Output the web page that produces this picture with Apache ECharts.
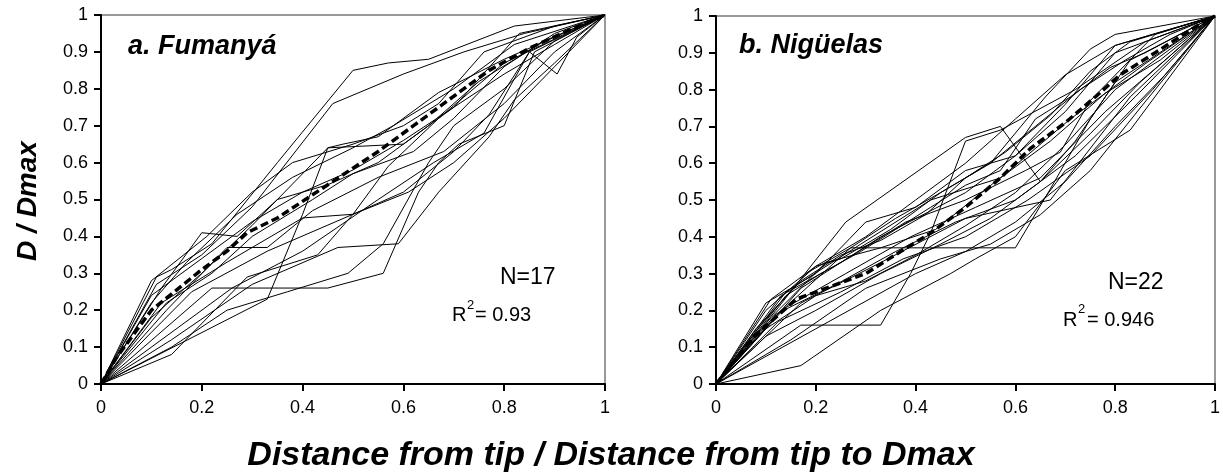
<!DOCTYPE html>
<html>
<head>
<meta charset="utf-8">
<title>D / Dmax</title>
<script src="https://cdn.jsdelivr.net/npm/echarts@6/dist/echarts.min.js"></script>
</head>
<body style="margin:0">
<div id="main" style="width: 1223px; height: 476px;"></div>
<script type="text/javascript">
// ticks
var yTicks = [0, 0.1, 0.2, 0.3, 0.4, 0.5, 0.6, 0.7, 0.8, 0.9, 1];
var xTicks = [0, 0.2, 0.4, 0.6, 0.8, 1];

// a. Fumanyá - 17 individual profiles [x, D/Dmax]
var fumanyaLines = [
	[[0,0],[0.11,0.29],[0.14,0.31],[0.22,0.38],[0.35,0.6],[0.5,0.85],[0.57,0.87],[0.65,0.88],[0.82,0.97],[1,1]],
	[[0,0],[0.14,0.08],[0.29,0.29],[0.43,0.35],[0.5,0.46],[0.57,0.59],[0.67,0.72],[0.8,0.87],[1,1]],
	[[0,0],[0.22,0.26],[0.45,0.26],[0.56,0.3],[0.63,0.52],[0.67,0.6],[0.71,0.65],[0.8,0.7],[0.86,0.9],[1,1]],
	[[0,0],[0.33,0.23],[0.4,0.46],[0.45,0.64],[0.6,0.65],[0.7,0.75],[0.83,0.95],[1,1]],
	[[0,0],[0.14,0.12],[0.3,0.27],[0.47,0.37],[0.59,0.38],[0.67,0.52],[0.77,0.67],[0.82,0.77],[0.9,0.87],[1,1]],
	[[0,0],[0.11,0.27],[0.2,0.35],[0.3,0.48],[0.46,0.76],[0.6,0.84],[0.72,0.9],[0.84,0.95],[1,1]],
	[[0,0],[0.12,0.22],[0.25,0.33],[0.4,0.45],[0.5,0.46],[0.61,0.52],[0.7,0.6],[0.8,0.72],[0.9,0.86],[1,1]],
	[[0,0],[0.1,0.18],[0.2,0.3],[0.3,0.43],[0.45,0.64],[0.48,0.65],[0.55,0.67],[0.67,0.79],[0.8,0.88],[1,1]],
	[[0,0],[0.16,0.16],[0.26,0.26],[0.4,0.36],[0.55,0.5],[0.66,0.6],[0.76,0.68],[0.85,0.9],[0.905,0.84],[0.944,0.94],[1,1]],
	[[0,0],[0.1,0.24],[0.2,0.34],[0.3,0.44],[0.4,0.52],[0.5,0.58],[0.6,0.66],[0.7,0.75],[0.8,0.84],[0.9,0.92],[1,1]],
	[[0,0],[0.12,0.26],[0.2,0.41],[0.27,0.4],[0.35,0.5],[0.45,0.54],[0.55,0.6],[0.65,0.7],[0.75,0.82],[0.88,0.93],[1,1]],
	[[0,0],[0.13,0.2],[0.25,0.37],[0.33,0.37],[0.42,0.47],[0.55,0.56],[0.68,0.63],[0.8,0.76],[0.9,0.9],[1,1]],
	[[0,0],[0.1,0.22],[0.17,0.33],[0.27,0.46],[0.38,0.56],[0.5,0.64],[0.58,0.7],[0.7,0.8],[0.82,0.92],[1,1]],
	[[0,0],[0.1,0.14],[0.18,0.25],[0.33,0.36],[0.5,0.46],[0.6,0.52],[0.7,0.63],[0.77,0.73],[0.85,0.9],[1,1]],
	[[0,0],[0.13,0.22],[0.22,0.3],[0.3,0.4],[0.42,0.5],[0.5,0.57],[0.62,0.63],[0.7,0.72],[0.8,0.86],[0.9,0.95],[1,1]],
	[[0,0],[0.14,0.1],[0.25,0.2],[0.37,0.25],[0.49,0.3],[0.56,0.38],[0.65,0.6],[0.7,0.7],[0.8,0.8],[0.9,0.93],[1,1]],
	[[0,0],[0.1,0.28],[0.21,0.4],[0.3,0.52],[0.38,0.6],[0.5,0.65],[0.6,0.7],[0.67,0.76],[0.76,0.9],[0.9,0.97],[1,1]]
];
var fumanyaMean = [[0,0],[0.03,0.07],[0.1,0.2],[0.2,0.31],[0.25,0.36],[0.29,0.41],[0.35,0.45],[0.45,0.54],[0.55,0.63],[0.65,0.73],[0.77,0.85],[0.85,0.91],[0.93,0.96],[1,1]];

// b. Nigüelas - 22 individual profiles
var niguelasLines = [
	[[0,0],[0.12,0.2],[0.26,0.44],[0.5,0.67],[0.57,0.7],[0.65,0.55],[0.72,0.66],[0.8,0.82],[1,1]],
	[[0,0],[0.17,0.16],[0.33,0.16],[0.39,0.3],[0.43,0.41],[0.5,0.66],[0.57,0.69],[0.72,0.8],[0.86,0.93],[1,1]],
	[[0,0],[0.17,0.05],[0.33,0.2],[0.47,0.3],[0.52,0.34],[0.6,0.4],[0.7,0.58],[0.83,0.69],[1,1]],
	[[0,0],[0.14,0.21],[0.27,0.37],[0.6,0.37],[0.67,0.53],[0.75,0.72],[0.83,0.88],[1,1]],
	[[0,0],[0.1,0.2],[0.2,0.32],[0.3,0.4],[0.4,0.5],[0.5,0.6],[0.6,0.72],[0.7,0.84],[0.8,0.92],[1,1]],
	[[0,0],[0.11,0.23],[0.2,0.32],[0.25,0.34],[0.35,0.42],[0.45,0.52],[0.55,0.6],[0.66,0.78],[0.75,0.91],[0.8,0.95],[1,1]],
	[[0,0],[0.13,0.2],[0.26,0.3],[0.39,0.4],[0.52,0.48],[0.65,0.56],[0.78,0.74],[0.9,0.88],[1,1]],
	[[0,0],[0.1,0.13],[0.2,0.2],[0.33,0.3],[0.45,0.38],[0.55,0.45],[0.65,0.55],[0.75,0.68],[0.85,0.82],[1,1]],
	[[0,0],[0.08,0.15],[0.17,0.28],[0.25,0.35],[0.33,0.39],[0.42,0.46],[0.5,0.56],[0.58,0.63],[0.67,0.73],[0.75,0.85],[0.83,0.93],[1,1]],
	[[0,0],[0.14,0.25],[0.29,0.38],[0.43,0.5],[0.57,0.56],[0.71,0.72],[0.86,0.87],[1,1]],
	[[0,0],[0.17,0.22],[0.33,0.33],[0.5,0.45],[0.67,0.5],[0.83,0.78],[1,1]],
	[[0,0],[0.12,0.19],[0.24,0.27],[0.36,0.36],[0.48,0.44],[0.6,0.5],[0.72,0.62],[0.84,0.78],[1,1]],
	[[0,0],[0.09,0.16],[0.18,0.3],[0.27,0.37],[0.36,0.45],[0.45,0.52],[0.55,0.6],[0.64,0.7],[0.73,0.8],[0.82,0.88],[0.91,0.95],[1,1]],
	[[0,0],[0.2,0.15],[0.4,0.3],[0.5,0.36],[0.6,0.44],[0.7,0.55],[0.8,0.7],[0.9,0.84],[1,1]],
	[[0,0],[0.1,0.22],[0.2,0.3],[0.3,0.44],[0.4,0.48],[0.5,0.58],[0.6,0.62],[0.7,0.76],[0.8,0.92],[1,1]],
	[[0,0],[0.125,0.17],[0.25,0.25],[0.375,0.34],[0.5,0.4],[0.625,0.5],[0.75,0.62],[0.875,0.8],[1,1]],
	[[0,0],[0.07,0.12],[0.14,0.24],[0.21,0.3],[0.29,0.36],[0.36,0.42],[0.43,0.48],[0.5,0.54],[0.57,0.58],[0.64,0.72],[0.71,0.78],[0.79,0.86],[0.86,0.9],[0.93,0.95],[1,1]],
	[[0,0],[0.15,0.12],[0.3,0.26],[0.45,0.34],[0.55,0.38],[0.65,0.46],[0.75,0.58],[0.85,0.75],[1,1]],
	[[0,0],[0.11,0.18],[0.22,0.33],[0.33,0.37],[0.44,0.42],[0.56,0.55],[0.67,0.66],[0.78,0.79],[0.89,0.88],[1,1]],
	[[0,0],[0.17,0.26],[0.33,0.4],[0.5,0.52],[0.6,0.62],[0.7,0.74],[0.8,0.9],[1,1]],
	[[0,0],[0.1,0.15],[0.2,0.24],[0.3,0.28],[0.4,0.35],[0.5,0.43],[0.6,0.52],[0.7,0.65],[0.8,0.8],[0.9,0.9],[1,1]],
	[[0,0],[0.13,0.24],[0.25,0.33],[0.38,0.44],[0.5,0.5],[0.62,0.58],[0.69,0.63],[0.75,0.77],[0.88,0.95],[1,1]]
];
var niguelasMean = [[0,0],[0.075,0.127],[0.16,0.23],[0.23,0.265],[0.3,0.3],[0.37,0.36],[0.43,0.41],[0.5,0.48],[0.57,0.56],[0.63,0.64],[0.7,0.71],[0.76,0.78],[0.81,0.84],[0.88,0.9],[0.96,0.97],[1,1]];

var FONT = 'Liberation Sans, Arial, sans-serif';

function makeX(idx) {
	return {
		gridIndex : idx, type : 'value', min : 0, max : 1, interval : 0.2,
		axisLine : { onZero : false, lineStyle : { color : '#000', width : 2 } },
		axisTick : { length : 7, lineStyle : { color : '#000', width : 2 } },
		axisLabel : { color : '#000', fontSize : 18, fontFamily : FONT, margin : 15,
			formatter : function(v) { return xTicks.indexOf(+v.toFixed(1)) >= 0 ? String(+v.toFixed(1)) : ''; } },
		splitLine : { show : false }
	};
}
function makeY(idx) {
	return {
		gridIndex : idx, type : 'value', min : 0, max : 1, interval : 0.1,
		axisLine : { onZero : false, lineStyle : { color : '#000', width : 2 } },
		axisTick : { length : 7, lineStyle : { color : '#000', width : 2 } },
		axisLabel : { color : '#000', fontSize : 18, fontFamily : FONT, margin : 13,
			formatter : function(v) { return yTicks.indexOf(+v.toFixed(1)) >= 0 ? String(+v.toFixed(1)) : ''; } },
		splitLine : { show : false }
	};
}

function buildSeries(lines, mean, idx) {
	var s = [];
	for (var i = 0; i < lines.length; i++) {
		s.push({
			type : 'line', xAxisIndex : idx, yAxisIndex : idx, data : lines[i],
			symbol : 'none', silent : true, z : 2,
			lineStyle : { color : '#000', width : 1 }
		});
	}
	s.push({
		type : 'line', xAxisIndex : idx, yAxisIndex : idx, data : mean,
		symbol : 'none', silent : true, z : 5,
		lineStyle : { color : '#000', width : 3.5, type : [8, 4] }
	});
	return s;
}

function txt(str, x, y, font, align) {
	return { type : 'text', x : x, y : y, z : 10,
		style : { text : str, fill : '#000', font : font + ' ' + FONT, textAlign : align || 'left', textVerticalAlign : 'middle' } };
}

function initEcharts() {
	var myChart = echarts.init(document.getElementById('main'));
	var option = {
		animation : false,
		backgroundColor : '#fff',
		grid : [
			{ left : 101, top : 15, width : 504, height : 369, show : true, borderColor : '#999', borderWidth : 2 },
			{ left : 716, top : 16, width : 502, height : 368, show : true, borderColor : '#999', borderWidth : 2 }
		],
		xAxis : [ makeX(0), makeX(1) ],
		yAxis : [ makeY(0), makeY(1) ],
		graphic : [
			txt('a. Fumanyá', 128, 47, 'italic bold 27px'),
			txt('b. Nigüelas', 739, 46, 'italic bold 27px'),
			txt('N=17', 500, 278, '23px'),
			txt('R', 452, 315, '20px'),
			txt('2', 467, 305, '13px'),
			txt('= 0.93', 475, 315, '20px'),
			txt('N=22', 1108, 283, '23px'),
			txt('R', 1063, 320, '20px'),
			txt('2', 1078, 309, '13px'),
			txt('= 0.946', 1087, 320, '20px'),
			{ type : 'text', x : 28, y : 201, rotation : Math.PI / 2, z : 10,
				style : { text : 'D / Dmax', fill : '#000', font : 'italic bold 28px ' + FONT, textAlign : 'center', textVerticalAlign : 'middle' } },
			txt('Distance from tip / Distance from tip to Dmax', 611, 456, 'italic bold 34px', 'center')
		],
		series : buildSeries(fumanyaLines, fumanyaMean, 0).concat(buildSeries(niguelasLines, niguelasMean, 1))
	};
	myChart.setOption(option);
}
initEcharts();
</script>
</body>
</html>
